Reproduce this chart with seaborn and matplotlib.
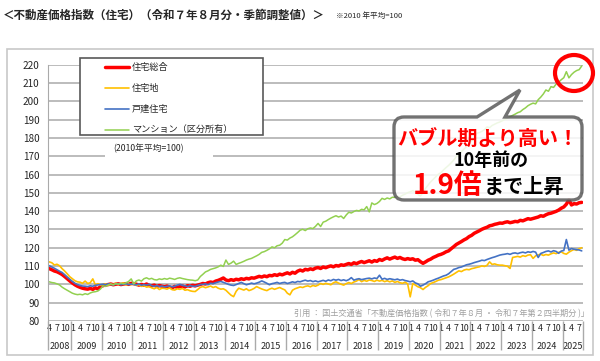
import matplotlib.pyplot as plt
import matplotlib.patches as mpatches
from matplotlib.path import Path
from matplotlib.transforms import Affine2D, blended_transform_factory
import numpy as np
import pandas as pd
import seaborn as sns

sns.set_style('white')
plt.rcParams['font.family'] = ['Noto Sans CJK JP', 'DejaVu Sans']

# monthly index, Apr 2008 - Aug 2025 (2010 average = 100)
months = pd.period_range('2008-04', '2025-08', freq='M')

total = [  # 住宅総合
    108.6, 108.0, 107.3, 106.9, 106.2, 105.4, 104.3, 103.1, 101.9,
    100.8, 99.8, 99.0, 98.4, 97.9, 97.6, 97.4, 97.8, 97.3, 98.1, 97.6, 98.8,
    99.3, 99.7, 99.9, 100.2, 99.8, 100.1, 100.3, 99.9, 100.2, 100.4, 100.0, 100.6,
    100.4, 100.1, 99.6, 100.0, 99.5, 100.2, 99.4, 99.2, 99.6, 98.9, 99.4, 99.0,
    98.7, 99.1, 98.5, 98.2, 98.9, 98.4, 98.8, 99.1, 98.6, 99.3, 99.0, 99.5,
    99.2, 99.6, 100.0, 100.5, 100.2, 100.9, 101.3, 101.0, 101.8, 102.2, 102.8, 103.5,
    102.4, 102.0, 102.6, 102.2, 102.8, 102.5, 103.1, 102.7, 103.3, 103.0, 103.6, 103.4,
    103.9, 104.4, 104.0, 104.6, 104.2, 104.9, 104.7, 105.3, 104.9, 105.6, 105.2, 105.8,
    106.3, 105.7, 106.6, 106.1, 107.2, 107.8, 107.3, 108.2, 107.9, 108.5, 108.1, 108.9,
    109.2, 108.7, 109.5, 109.1, 109.7, 110.1, 109.6, 110.3, 110.0, 110.7, 110.4, 110.9,
    111.4, 110.9, 111.8, 111.3, 112.0, 112.5, 111.9, 112.4, 112.9, 112.2, 113.0, 112.6,
    113.6, 113.1, 113.9, 114.5, 113.8, 114.4, 114.9, 114.2, 114.7, 114.0, 113.6, 114.1,
    113.7, 114.0, 113.2, 113.5, 112.4, 111.5, 112.3, 113.2, 113.8, 114.7, 115.3, 116.0,
    116.4, 117.0, 117.8, 118.3, 119.5, 120.6, 121.8, 122.6, 123.4, 124.3, 125.0, 126.1,
    126.8, 127.9, 128.6, 129.3, 130.1, 130.7, 131.2, 132.0, 132.3, 132.8, 133.1, 133.5,
    133.4, 133.9, 134.2, 133.7, 134.0, 134.4, 134.2, 135.0, 134.7, 135.3, 135.9, 135.6,
    136.0, 136.4, 136.8, 137.5, 137.2, 138.0, 138.6, 138.9, 139.4, 139.9, 140.6, 141.6,
    142.3, 143.8, 146.2, 143.4, 144.1, 143.9, 144.6, 144.8,
]

land = [  # 住宅地
    112.3, 111.8, 110.6, 111.0, 110.2, 108.6, 107.3, 105.8, 104.2,
    103.1, 102.0, 101.4, 101.2, 100.6, 101.8, 100.5, 100.9, 103.0, 99.7, 100.4, 99.6,
    99.9, 100.3, 99.5, 100.1, 99.8, 100.6, 99.9, 100.4, 100.8, 99.7, 100.2, 99.8,
    100.5, 99.4, 99.9, 98.9, 99.3, 98.5, 98.8, 98.1, 97.6, 98.3, 97.2, 97.9,
    97.8, 97.4, 98.1, 97.1, 96.9, 97.6, 97.3, 97.8, 96.8, 97.1, 96.5, 96.2,
    96.1, 97.2, 98.4, 98.8, 98.2, 98.6, 99.1, 98.3, 98.8, 97.9, 97.4, 97.6,
    96.8, 95.4, 94.1, 93.3, 96.2, 97.9, 97.4, 96.9, 97.6, 96.6, 97.1, 97.8,
    98.8, 98.1, 97.5, 97.0, 96.6, 97.4, 97.9, 97.3, 97.8, 98.3, 97.6, 97.0,
    95.2, 94.3, 96.8, 97.6, 98.1, 98.6, 98.3, 98.9, 99.2, 98.7, 99.4, 99.0,
    99.6, 100.5, 100.0, 100.6, 100.2, 99.8, 100.9, 101.4, 100.7, 100.1, 99.6, 100.4,
    101.0, 100.5, 101.3, 101.8, 102.7, 101.5, 102.2, 101.7, 102.4, 102.1, 101.6, 102.3,
    101.8, 102.2, 101.5, 102.0, 101.4, 101.9, 101.1, 101.6, 100.9, 100.6, 101.2, 100.3,
    93.2, 100.5, 99.6, 98.7, 98.2, 97.2, 98.4, 99.3, 100.5, 101.0, 101.6, 102.3,
    102.6, 103.1, 103.6, 104.1, 104.8, 105.6, 106.5, 107.4, 107.0, 107.8, 108.2, 108.0,
    108.6, 108.9, 109.3, 109.6, 110.1, 109.8, 110.4, 112.3, 110.9, 111.2, 110.7, 110.5,
    110.5, 110.2, 109.9, 108.7, 114.7, 115.0, 115.3, 114.9, 115.7, 115.3, 116.0, 116.2,
    114.2, 115.6, 116.1, 116.5, 115.8, 116.3, 116.0, 116.7, 117.2, 116.8, 117.5, 117.8,
    116.9, 116.5, 117.6, 118.4, 119.1, 118.6, 119.5, 120.0,
]

house = [  # 戸建住宅
    110.2, 109.5, 108.8, 108.0, 107.2, 106.5, 105.3, 104.0, 102.8,
    101.6, 100.6, 99.9, 99.4, 99.1, 99.0, 98.8, 99.2, 99.0, 99.5, 99.7, 99.9,
    100.1, 99.8, 100.3, 100.0, 99.7, 100.2, 100.4, 99.8, 100.1, 100.3, 99.9, 100.2,
    100.0, 99.7, 100.3, 99.5, 99.9, 99.6, 100.1, 99.3, 98.9, 99.4, 98.8, 99.1,
    98.6, 98.9, 99.2, 98.7, 99.0, 99.6, 100.0, 99.5, 99.2, 98.8, 99.3, 99.0,
    98.9, 99.4, 99.9, 100.0, 100.3, 99.8, 100.6, 100.4, 100.9, 101.3, 101.6, 101.1,
    100.6, 100.0, 99.6, 99.4, 99.9, 100.5, 101.1, 100.4, 99.8, 100.2, 100.7, 100.3,
    100.7, 101.2, 101.9, 101.3, 100.6, 99.8, 100.4, 100.7, 101.1, 100.5, 100.9, 101.1,
    100.5, 100.9, 101.4, 101.0, 101.6, 101.4, 101.9, 102.3, 101.8, 102.1, 101.5, 101.9,
    101.4, 101.8, 102.2, 101.7, 102.4, 102.0, 102.7, 102.3, 102.7, 102.1, 102.5, 102.0,
    102.6, 103.7, 102.3, 102.8, 103.1, 102.6, 102.9, 103.2, 103.4, 103.0, 103.5, 103.2,
    105.0, 102.8, 103.3, 102.7, 103.1, 102.8, 102.5, 102.9, 102.3, 102.6, 102.1, 101.8,
    101.4, 101.9, 100.8, 100.3, 99.0, 99.6, 100.4, 101.4, 101.8, 102.3, 102.9, 103.4,
    104.0, 104.6, 105.0, 105.8, 107.0, 108.2, 108.6, 109.2, 109.5, 110.1, 110.7, 111.0,
    111.4, 111.9, 112.3, 112.7, 113.2, 113.0, 113.6, 114.1, 114.6, 115.0, 115.5, 116.0,
    116.3, 116.5, 116.8, 116.4, 117.0, 117.2, 116.8, 117.3, 117.6, 117.2, 117.8, 117.5,
    118.0, 117.6, 114.7, 116.9, 117.4, 118.0, 118.3, 117.7, 118.4, 118.0, 117.0, 118.2,
    118.5, 124.5, 118.7, 119.6, 119.2, 119.0, 118.8, 118.3,
]

condo = [  # マンション（区分所有）
    101.4, 101.0, 100.8, 100.3, 99.7, 98.5, 97.6, 96.8, 96.0,
    95.2, 94.7, 94.4, 94.6, 94.3, 94.9, 94.5, 95.3, 95.8, 96.0, 96.4, 97.5,
    99.2, 98.9, 99.6, 100.2, 99.8, 100.4, 100.1, 100.6, 100.3, 100.9, 101.6, 103.0,
    100.2, 101.9, 102.4, 101.8, 103.1, 103.6, 102.9, 103.3, 102.6, 102.4, 103.0, 102.7,
    103.2, 102.8, 103.4, 103.1, 102.7, 103.3, 103.6, 103.2, 102.9, 102.6, 102.4, 102.3,
    102.0, 102.4, 104.3, 105.5, 106.8, 107.4, 108.2, 108.6, 109.0, 109.6, 110.5, 109.8,
    113.3, 110.9, 111.6, 112.7, 110.9, 111.5, 112.0, 112.6, 113.3, 113.8, 114.2, 114.9,
    115.6, 116.4, 117.5, 117.9, 118.6, 119.4, 120.5, 120.0, 121.1, 121.4, 122.5, 124.5,
    124.2, 125.3, 126.0, 127.1, 128.3, 129.6, 130.1, 129.4, 130.4, 130.8, 130.5, 131.7,
    133.3, 131.6, 134.0, 134.5, 135.4, 136.2, 136.9, 137.5, 136.8, 137.3, 136.0, 137.9,
    139.4, 139.0, 139.8, 140.4, 140.1, 141.0, 140.7, 142.5, 139.6, 144.5, 143.6, 144.2,
    145.3, 147.0, 146.4, 147.2, 146.7, 147.6, 147.5, 148.1, 147.8, 148.7, 149.3, 150.1,
    150.6, 151.2, 150.4, 149.1, 148.3, 150.2, 152.5, 154.3, 156.0, 157.4, 158.8, 160.2,
    161.0, 162.5, 163.8, 165.0, 166.4, 167.9, 169.8, 171.2, 172.5, 173.9, 175.1, 176.8,
    178.4, 179.6, 182.6, 182.9, 183.6, 184.5, 186.0, 185.6, 186.8, 187.5, 188.2, 188.7,
    189.4, 190.2, 190.7, 191.6, 192.3, 193.0, 193.8, 194.3, 195.5, 196.4, 197.6, 198.4,
    199.0, 198.6, 200.9, 202.3, 204.0, 206.2, 205.5, 208.0, 207.6, 209.4, 210.5, 211.8,
    212.9, 216.2, 212.8, 214.6, 215.9, 216.8, 217.3, 219.3,
]

series_names = ['住宅総合', '住宅地', '戸建住宅', 'マンション（区分所有）']
series_values = [total, land, house, condo]
series_colors = ['#FF0000', '#FFC000', '#4472C4', '#92D050']
series_widths = [2.5, 1.2, 1.2, 1.1]

df = pd.DataFrame({'pos': np.arange(len(months)) + 0.5})
for name, vals in zip(series_names, series_values):
    df[name] = vals

fig = plt.figure(figsize=(6, 3.61), dpi=100)
ax = fig.add_axes([48 / 600, 40 / 361, 535 / 600, 256.3 / 361])
# helper: reference pixel coords (origin top-left) for the decorations
px = Affine2D().scale(1 / 600, -1 / 361).translate(0, 1) + fig.transFigure

# outer chart frame
fig.add_artist(mpatches.Rectangle((7, 49), 586, 306, transform=px, fill=False,
                                  edgecolor='#C8C8C8', lw=1.2))

for name, color, lw in zip(series_names, series_colors, series_widths):
    sns.lineplot(data=df, x='pos', y=name, color=color, linewidth=lw, ax=ax, label=name)

ax.set_xlim(0, len(months))
ax.set_ylim(80, 220)
ax.set_yticks(range(80, 221, 10))
ax.yaxis.grid(True, color='#AAAAAA', lw=1.1)
ax.xaxis.grid(False)
ax.set_axisbelow(True)
for side in ['top', 'right', 'bottom']:
    ax.spines[side].set_visible(False)
ax.spines['left'].set_color('#AAAAAA')
ax.tick_params(axis='y', length=4, color='#AAAAAA', labelsize=7.2, pad=2)
ax.set_xlabel('')
ax.set_ylabel('')

# x axis: months row + years row
mlabels = [(i + 0.5, str(p.month)) for i, p in enumerate(months) if p.month in (1, 4, 7, 10)]
ax.set_xticks([m[0] for m in mlabels])
ax.set_xticklabels([m[1] for m in mlabels])
ax.tick_params(axis='x', which='major', length=0, pad=2.5, labelsize=6.3)

years = sorted(set(p.year for p in months))
edges = [0] + [i for i, p in enumerate(months) if p.month == 1] + [len(months)]
centers = [(a + b) / 2 for a, b in zip(edges[:-1], edges[1:])]
ax.set_xticks(centers, minor=True)
ax.set_xticklabels([str(y) for y in years], minor=True)
ax.tick_params(axis='x', which='minor', length=0, pad=15, labelsize=6.5)

trans = blended_transform_factory(ax.transData, ax.transAxes)
ax.vlines(edges, -0.115, 0, transform=trans, colors='#AAAAAA', lw=1, clip_on=False)

# legend
ax.add_patch(mpatches.Rectangle((80, 58), 183, 77, transform=px, facecolor='white',
                                edgecolor='#595959', lw=1.2, clip_on=False, zorder=4.5))
leg = ax.legend(loc='upper left', bbox_to_anchor=((105 - 48) / 535, (321 - 63) / 256.3),
                frameon=False, fontsize=6.6, handlelength=2.6, handletextpad=0.35,
                labelspacing=1.3, borderpad=0, borderaxespad=0)
leg.set_zorder(5)

ax.add_patch(mpatches.Rectangle((105, 151), 108, 9, transform=px, facecolor='white',
                                edgecolor='none', zorder=1.5))
ax.text(148, 148.5, '(2010年平均=100)', transform=px, ha='center', va='center', fontsize=6.3)

ax.text(589, 314, '引用 ： 国土交通省「不動産価格指数 ( 令和７年８月 ・ 令和７年第２四半期分 )」',
        transform=px, ha='right', va='center', fontsize=5.9, color='#A0A0A0', clip_on=False)

# callout balloon
x0, y0, x1, y1, r = 394, 117, 582, 200, 10
verts = [(x0 + r, y0), (477, y0), (520, 90), (505, y0), (x1 - r, y0),
         (x1, y0), (x1, y0 + r), (x1, y1 - r), (x1, y1), (x1 - r, y1),
         (x0 + r, y1), (x0, y1), (x0, y1 - r), (x0, y0 + r), (x0, y0), (x0 + r, y0),
         (x0 + r, y0)]
codes = [Path.MOVETO, Path.LINETO, Path.LINETO, Path.LINETO, Path.LINETO,
         Path.CURVE3, Path.CURVE3, Path.LINETO, Path.CURVE3, Path.CURVE3,
         Path.LINETO, Path.CURVE3, Path.CURVE3, Path.LINETO, Path.CURVE3, Path.CURVE3,
         Path.CLOSEPOLY]
balloon = mpatches.PathPatch(Path(verts, codes), transform=px, facecolor='white', alpha=0.85,
                             edgecolor='#595959', lw=2.4, clip_on=False, zorder=6)
fig.add_artist(balloon)
fig.text(488, 139, 'バブル期より高い！', transform=px, ha='center', va='center',
         fontsize=14.5, fontweight='bold', color='#FF0000', zorder=7)
fig.text(491, 161, '10年前の', transform=px, ha='center', va='center',
         fontsize=13, fontweight='bold', color='black', zorder=7)
fig.text(482, 194, '1.9倍', transform=px, ha='right', va='baseline',
         fontsize=20, fontweight='bold', color='#FF0000', zorder=7)
fig.text(484, 193, 'まで上昇', transform=px, ha='left', va='baseline',
         fontsize=14.5, fontweight='bold', color='black', zorder=7)

# red ring round the latest condo value
fig.add_artist(mpatches.Ellipse((574, 73), 38, 36, transform=px, fill=False,
                                edgecolor='#FF0000', lw=3, zorder=8))

fig.text(3, 15, '＜不動産価格指数（住宅）（令和７年８月分・季節調整値）＞', transform=px,
         ha='left', va='center', fontsize=8.3, fontweight='bold')
fig.text(336, 16, '※2010 年平均=100', transform=px, ha='left', va='center', fontsize=5.5)

fig.savefig('out.png', dpi=100)
